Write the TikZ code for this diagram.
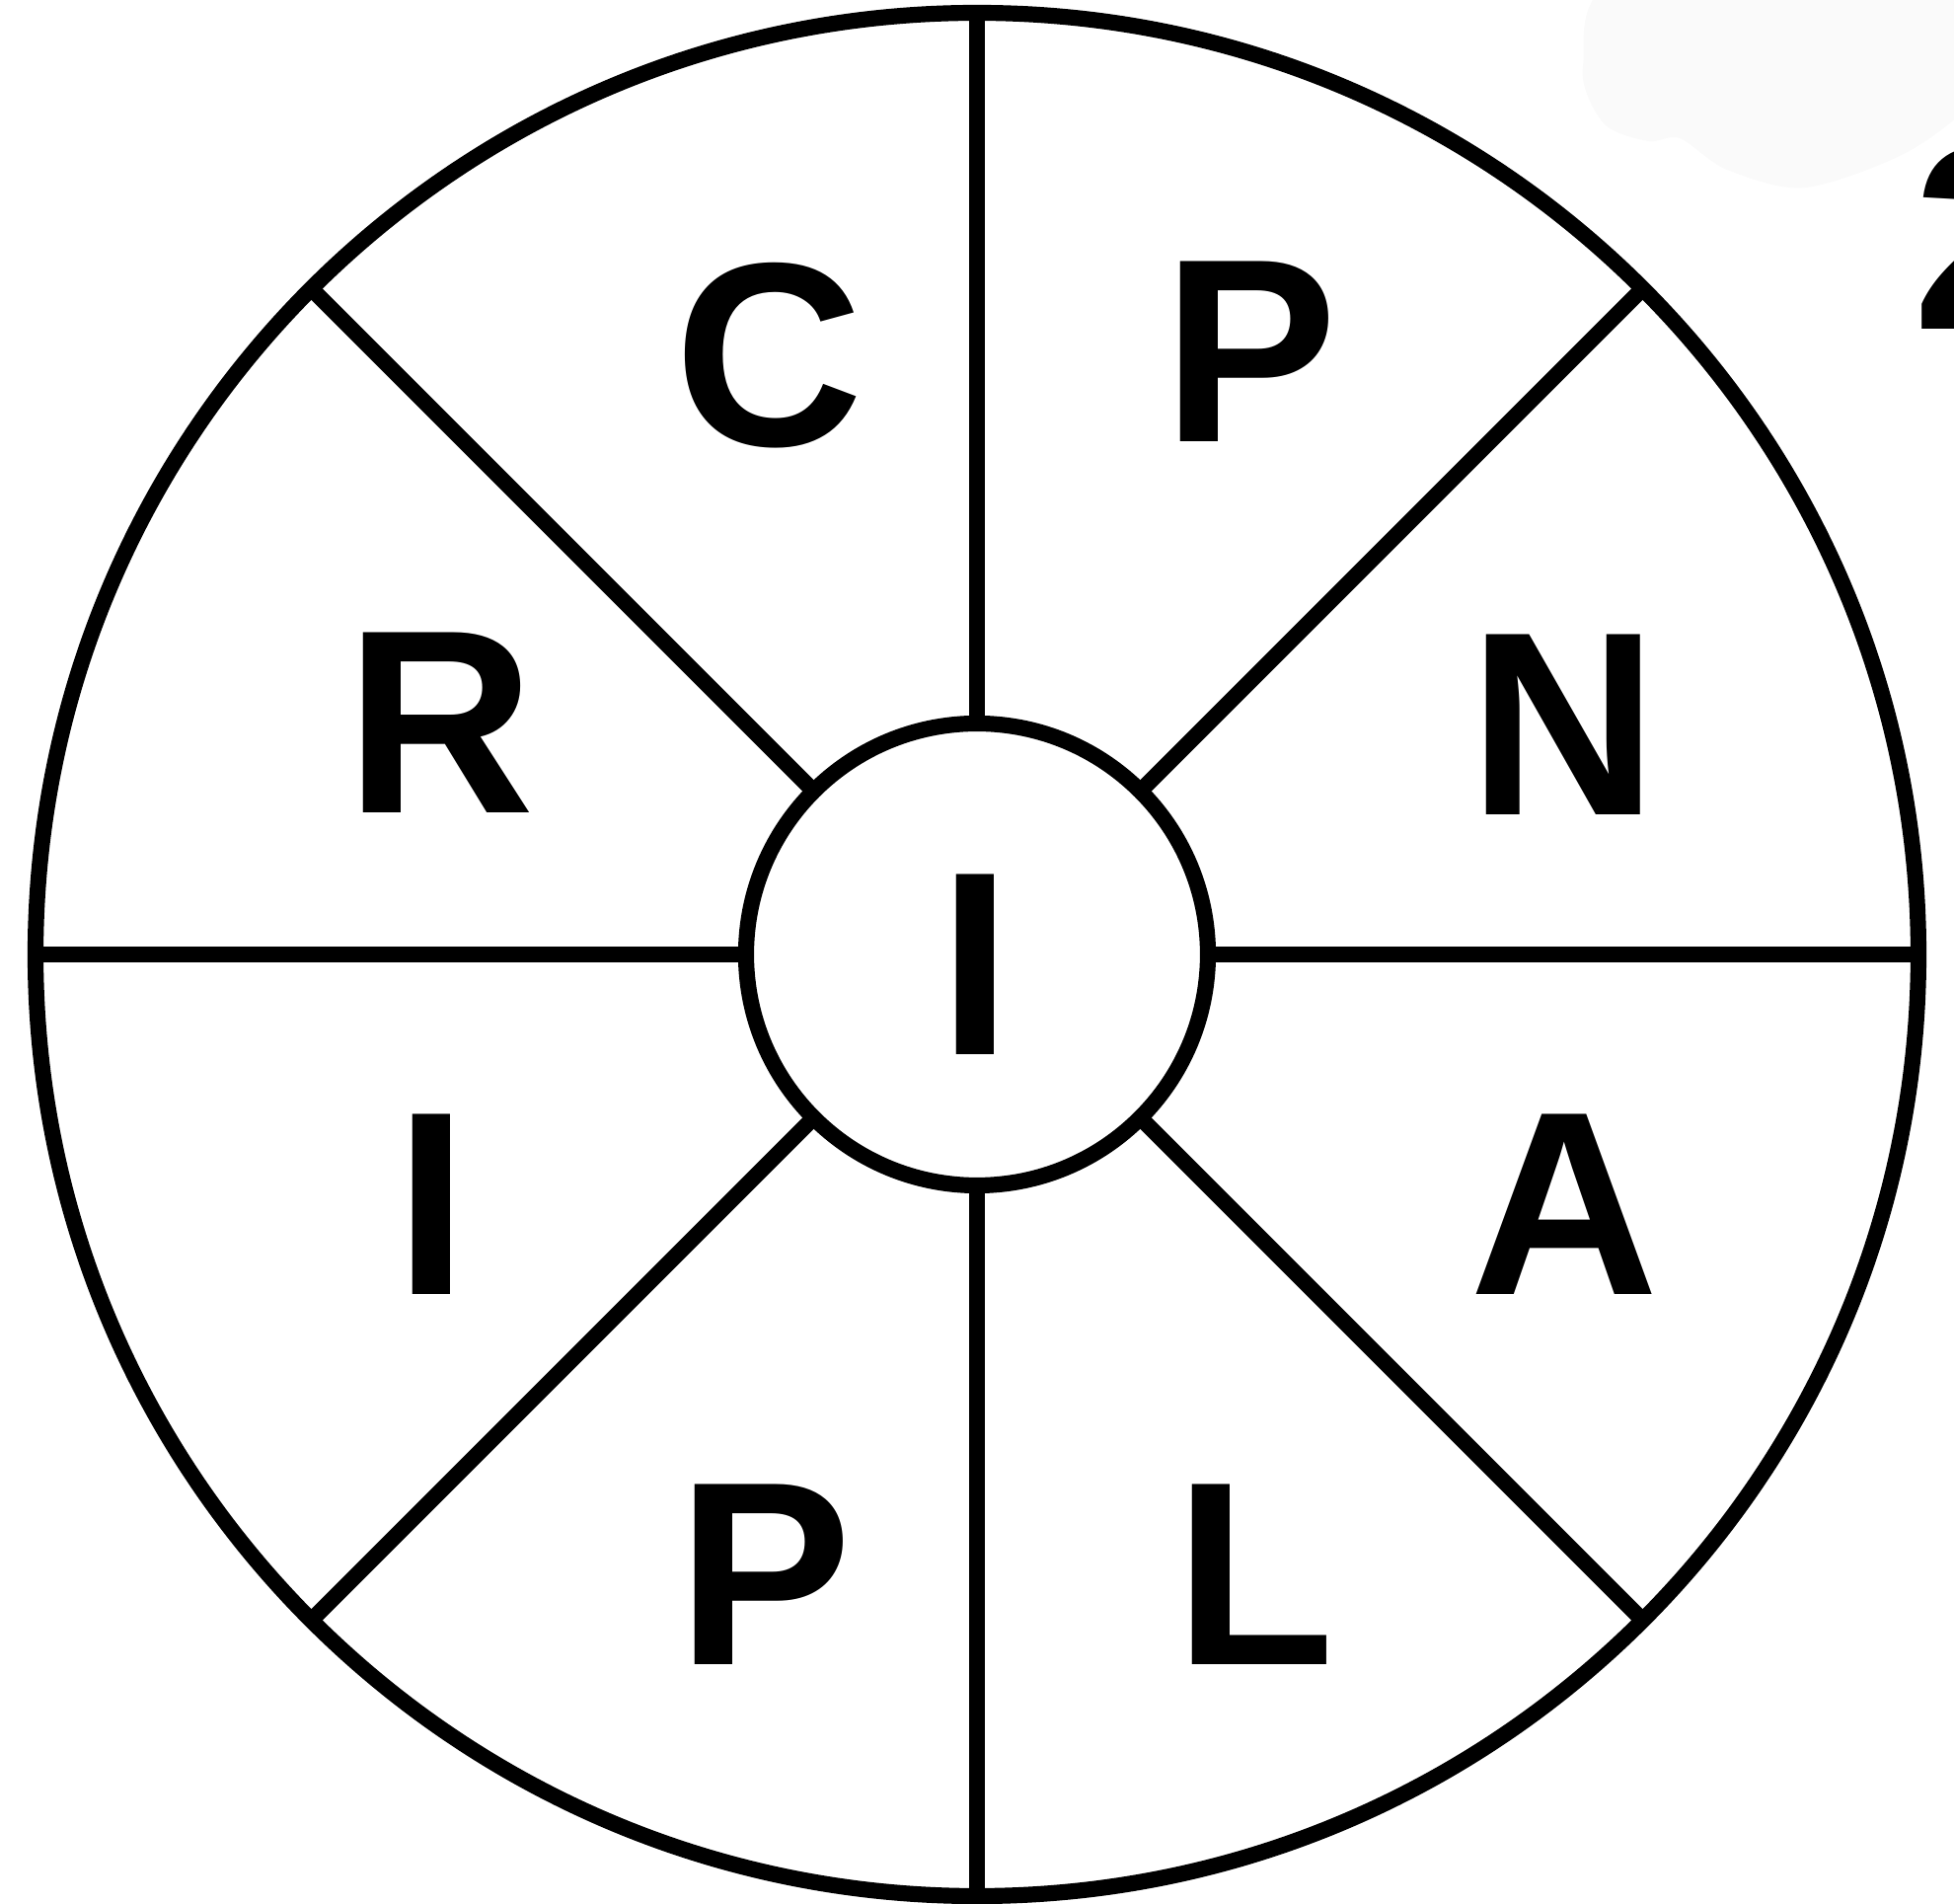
\documentclass[tikz,border=0pt]{standalone}
\usepackage{fontspec}
\setmainfont{Liberation Sans}
\tikzset{
  ring/.style={circle, draw=black, line width=4.6pt, inner sep=0pt, outer sep=0pt},
  spoke/.style={line width=4.6pt, draw=black},
  ltr/.style={font=\fontsize{75.5}{80}\selectfont\bfseries, inner sep=0pt},
  smudge/.style={fill=black!2, draw=none},
}
\begin{document}
\begin{tikzpicture}
  \useasboundingbox (-9.90,-9.62) rectangle (9.90,9.67);
  % faint smudge, top right
  \fill[smudge] plot[smooth cycle] coordinates {(6.60,9.90) (6.14,9.00) (6.35,8.42)
    (6.80,8.24) (7.12,8.27) (7.60,7.95) (8.40,7.77) (9.50,8.17) (10.3,8.9) (10.3,9.9)};
  % wheel
  \foreach \a in {0,45,...,315}
    \draw[spoke] (\a:2.34) -- (\a:9.54);
  \node[ring, minimum size=19.08cm] (rim) at (0,0) {};
  \node[ring, minimum size=4.68cm] (hub) at (0,0) {};
  % letters
  \node[ltr] (mid) at (-0.02,-0.10) {I};
  \node[ltr] (c) at (-2.11,6.07) {C};
  \node[ltr] (p1) at (2.77,6.11) {P};
  \node[ltr] (n) at (5.94,2.33) {N};
  \node[ltr] (r) at (-5.44,2.35) {R};
  \node[ltr] (i1) at (-5.53,-2.53) {I};
  \node[ltr] (a) at (5.95,-2.53) {A};
  \node[ltr] (p2) at (-2.15,-6.28) {P};
  \node[ltr] (l) at (2.82,-6.28) {L};
  % number cut by the edge
  \node[ltr, anchor=north west] (num) at (9.48,8.19) {2};
\end{tikzpicture}
\end{document}
